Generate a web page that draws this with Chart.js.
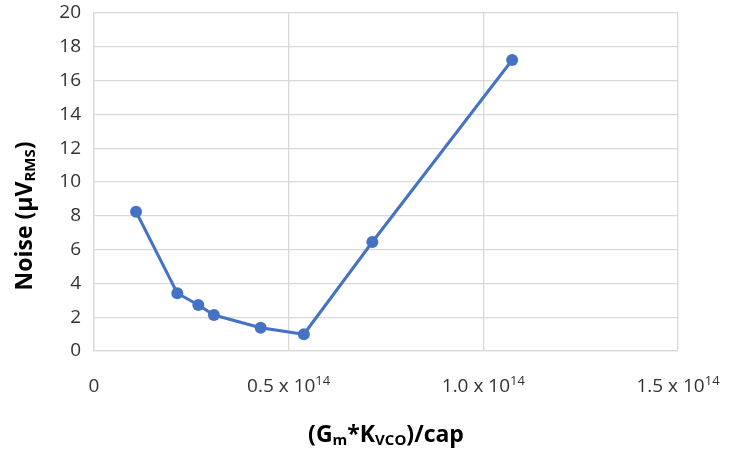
<!DOCTYPE html>
<html>
<head>
<meta charset="utf-8">
<script src="https://cdn.jsdelivr.net/npm/chart.js@4/dist/chart.umd.min.js"></script>
<style>
  html, body { margin: 0; padding: 0; background: #fff; }
  canvas { display: block; }
</style>
</head>
<body>
<canvas id="chart" width="734" height="455"></canvas>
<script>
// Loop gain term (Gm*Kvco)/cap and the resulting integrated noise
const gainRatio = [0.108e14, 0.214e14, 0.268e14, 0.308e14, 0.428e14, 0.539e14, 0.715e14, 1.074e14];
const noiseRms  = [8.24, 3.42, 2.72, 2.13, 1.38, 0.99, 6.45, 17.22];

// x tick positions and their labels as [base text, superscript]
const xTickValues = [0, 0.5e14, 1.0e14, 1.5e14];
const xTickLabels = [['0', ''], ['0.5 x 10', '14'], ['1.0 x 10', '14'], ['1.5 x 10', '14']];

// axis titles as runs of [text, kind] where kind is '', 'sub' or 'sup'
const xTitleRuns = [['(G', ''], ['m', 'sub'], ['*K', ''], ['VCO', 'sub'], [')/cap', '']];
const yTitleRuns = [['Noise (\u03BCV', ''], ['RMS', 'sub'], [')', '']];

const FONT = '"Open Sans", "Liberation Sans", sans-serif';
const TEXT = '#333333';
const GRID = '#d9d9d9';
const BLUE = '#4472C4';

// Draw text runs with sub/superscripts, centred on (cx, cy)
function drawRuns(ctx, runs, cx, cy, size, weight, ratio) {
  const small = Math.round(size * ratio);
  const fontFor = k => `${weight} ${k ? small : size}px ${FONT}`;
  let total = 0;
  const widths = runs.map(([t, k]) => {
    ctx.font = fontFor(k);
    const w = ctx.measureText(t).width;
    total += w;
    return w;
  });
  let x = cx - total / 2;
  ctx.textBaseline = 'middle';
  ctx.textAlign = 'left';
  runs.forEach(([t, k], i) => {
    ctx.font = fontFor(k);
    const dy = k === 'sub' ? size * 0.26 : k === 'sup' ? -size * 0.28 : 0;
    ctx.fillText(t, x, cy + dy);
    x += widths[i];
  });
}

const richText = {
  id: 'richText',
  afterDraw(chart) {
    const { ctx, scales, chartArea } = chart;
    ctx.save();
    ctx.fillStyle = TEXT;
    // x tick labels with exponent
    xTickValues.forEach((v, i) => {
      const px = scales.x.getPixelForValue(v);
      const [base, sup] = xTickLabels[i];
      drawRuns(ctx, sup ? [[base, ''], [sup, 'sup']] : [[base, '']], px, chartArea.bottom + 36, 19, 'normal', 0.7);
    });
    // x axis title
    ctx.fillStyle = '#000';
    drawRuns(ctx, xTitleRuns, (chartArea.left + chartArea.right) / 2, chartArea.bottom + 84, 23, 'bold', 0.66);
    // y axis title, rotated
    ctx.translate(25, 216);
    ctx.rotate(-Math.PI / 2);
    drawRuns(ctx, yTitleRuns, 0, 0, 23, 'bold', 0.66);
    ctx.restore();
  }
};

new Chart(document.getElementById('chart'), {
  type: 'scatter',
  data: {
    datasets: [{
      data: gainRatio.map((x, i) => ({ x, y: noiseRms[i] })),
      showLine: true,
      borderColor: BLUE,
      backgroundColor: BLUE,
      borderWidth: 3,
      pointRadius: 6,
      pointHoverRadius: 6,
      pointBorderWidth: 0
    }]
  },
  options: {
    responsive: false,
    animation: false,
    layout: { padding: { top: 13, right: 56, left: 0, bottom: 0 } },
    plugins: { legend: { display: false }, tooltip: { enabled: false } },
    scales: {
      x: {
        type: 'linear',
        min: 0,
        max: 1.5e14,
        afterBuildTicks: s => { s.ticks = xTickValues.map(value => ({ value })); },
        ticks: { display: false },
        grid: { color: GRID, lineWidth: 1.3, drawTicks: false },
        border: { color: GRID, width: 1.3 },
        afterFit: s => { s.height = 104; s.paddingLeft = 0; s.paddingRight = 0; }
      },
      y: {
        min: 0,
        max: 20,
        ticks: { stepSize: 2, color: TEXT, font: { family: FONT, size: 19 }, padding: 13 },
        grid: { color: GRID, lineWidth: 1.3, drawTicks: false },
        border: { color: GRID, width: 1.3 },
        afterFit: s => { s.width = 94; s.paddingTop = 0; s.paddingBottom = 0; }
      }
    }
  },
  plugins: [richText]
});
</script>
</body>
</html>
